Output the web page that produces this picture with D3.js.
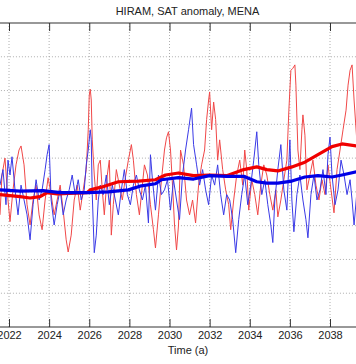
<!DOCTYPE html>
<html>
<head>
<meta charset="utf-8">
<script src="https://cdn.jsdelivr.net/npm/d3@7"></script>
<style>
  html, body { margin: 0; padding: 0; background: #fff; }
  svg { display: block; }
  text { font-family: "Liberation Sans", Arial, sans-serif; }
</style>
</head>
<body>
<svg id="chart" width="356" height="364"></svg>
<script>
// ---------- data ----------
const titleText = "HIRAM, SAT anomaly, MENA";
const xLabelText = "Time (a)";
const xTickYears = [2022, 2024, 2026, 2028, 2030, 2032, 2034, 2036, 2038];
const xGridYears = [2020, 2022, 2024, 2026, 2028, 2030, 2032, 2034, 2036, 2038, 2040];
const yTickValues = [-2, -1.5, -1, -0.5, 0, 0.5, 1, 1.5, 2, 2.5];

// thin red series (monthly-ish anomaly)
const redTime = [2021.55,2021.65,2021.80,2021.95,2022.05,2022.20,2022.35,2022.50,2022.60,2022.75,2022.90,2023.05,2023.20,2023.35,2023.50,2023.65,2023.80,2023.95,2024.10,2024.25,2024.40,2024.55,2024.70,2024.85,2024.95,2025.10,2025.25,2025.40,2025.55,2025.70,2025.85,2025.95,2026.00,2026.05,2026.10,2026.15,2026.25,2026.35,2026.45,2026.55,2026.65,2026.75,2026.90,2027.00,2027.10,2027.20,2027.35,2027.50,2027.65,2027.80,2027.95,2028.10,2028.20,2028.35,2028.50,2028.60,2028.75,2028.90,2029.05,2029.20,2029.30,2029.45,2029.60,2029.75,2029.85,2029.95,2030.05,2030.15,2030.25,2030.35,2030.45,2030.55,2030.70,2030.85,2031.00,2031.15,2031.30,2031.45,2031.60,2031.75,2031.85,2031.95,2032.00,2032.10,2032.20,2032.30,2032.40,2032.50,2032.65,2032.80,2032.95,2033.05,2033.20,2033.35,2033.50,2033.65,2033.75,2033.85,2033.95,2034.10,2034.25,2034.40,2034.55,2034.70,2034.85,2035.00,2035.15,2035.30,2035.40,2035.55,2035.70,2035.85,2035.95,2036.05,2036.15,2036.25,2036.30,2036.40,2036.50,2036.60,2036.65,2036.75,2036.85,2037.00,2037.15,2037.30,2037.45,2037.60,2037.75,2037.90,2038.05,2038.20,2038.35,2038.50,2038.65,2038.80,2038.90,2039.00,2039.10,2039.20,2039.35];
const redValue = [-0.34,0.25,0.50,-0.12,-0.44,0.03,0.40,0.62,0.68,0.40,-0.19,-0.49,-0.12,0.10,-0.34,-0.56,-0.12,0.21,-0.04,-0.34,-0.12,0.10,-0.27,-0.71,-0.89,-0.64,-0.12,0.10,-0.27,0.03,0.33,0.92,1.43,1.52,1.36,0.77,0.25,-0.12,0.40,0.47,0.03,-0.34,0.25,0.47,-0.64,-0.19,0.33,0.10,-0.12,0.21,0.47,0.70,0.47,-0.04,-0.34,-0.04,0.40,0.25,-0.19,-0.56,-0.83,-0.34,0.18,0.62,0.80,0.89,0.62,0.10,-0.49,-0.86,-0.49,0.62,0.40,-0.12,-0.34,-0.12,-0.46,0.10,0.40,0.62,1.07,1.36,1.48,0.92,1.33,1.07,0.47,0.77,0.33,0.03,-0.19,-0.56,-0.12,0.25,0.47,0.10,0.62,0.33,-0.27,0.18,-0.04,-0.34,0.10,0.40,0.25,-0.04,-0.27,0.03,-0.37,-0.12,0.18,0.47,1.21,1.80,1.83,1.88,1.58,0.62,0.33,0.92,1.14,0.84,0.03,0.25,0.47,0.10,-0.12,0.18,-0.04,0.40,0.03,-0.31,0.33,0.62,0.92,1.21,1.58,1.80,1.88,1.36,0.70];

// thin blue series
const blueTime = [2021.55,2021.70,2021.85,2021.95,2022.05,2022.15,2022.30,2022.45,2022.60,2022.75,2022.90,2023.05,2023.20,2023.35,2023.50,2023.65,2023.80,2023.90,2024.00,2024.10,2024.25,2024.40,2024.55,2024.70,2024.85,2025.00,2025.15,2025.30,2025.45,2025.60,2025.75,2025.85,2025.95,2026.05,2026.10,2026.15,2026.25,2026.35,2026.45,2026.55,2026.70,2026.85,2027.00,2027.15,2027.30,2027.45,2027.60,2027.75,2027.90,2028.05,2028.20,2028.35,2028.50,2028.65,2028.80,2028.95,2029.05,2029.15,2029.30,2029.45,2029.60,2029.75,2029.90,2030.05,2030.20,2030.35,2030.50,2030.65,2030.80,2030.95,2031.10,2031.20,2031.35,2031.50,2031.65,2031.80,2031.95,2032.10,2032.25,2032.40,2032.55,2032.70,2032.85,2033.00,2033.15,2033.30,2033.45,2033.60,2033.75,2033.90,2034.05,2034.20,2034.35,2034.45,2034.60,2034.75,2034.90,2035.05,2035.15,2035.25,2035.40,2035.55,2035.70,2035.85,2036.00,2036.10,2036.20,2036.35,2036.50,2036.65,2036.80,2036.90,2037.05,2037.20,2037.35,2037.50,2037.65,2037.80,2037.90,2038.00,2038.10,2038.25,2038.40,2038.55,2038.70,2038.85,2039.00,2039.10,2039.20,2039.35];
const blueValue = [0.10,0.33,-0.19,0.47,0.25,0.52,0.03,-0.34,0.10,-0.12,-0.34,-0.71,-0.19,0.18,-0.12,0.03,0.33,0.55,0.70,-0.12,-0.49,-0.19,0.03,-0.34,-0.12,0.03,0.25,-0.04,0.18,-0.12,0.03,0.40,0.62,0.92,0.77,-0.04,-0.90,-0.64,-0.12,0.10,-0.04,0.25,-0.19,0.10,-0.12,-0.34,0.03,0.33,-0.04,-0.19,0.10,0.25,0.03,-0.12,0.10,-0.46,0.55,0.18,-0.27,0.25,-0.04,0.03,0.18,-0.27,0.18,-0.12,-0.41,0.25,0.62,0.92,1.24,0.70,0.40,0.10,0.33,0.03,-0.19,0.25,0.10,0.40,-0.04,-0.34,-0.04,-0.12,-0.41,-0.90,-0.41,-0.04,0.25,-0.19,0.10,0.47,0.89,0.40,-0.04,0.18,-0.19,-0.49,-0.75,-0.12,0.33,0.70,0.03,-0.27,0.77,-0.12,-0.59,-0.04,0.25,-0.12,-0.41,-0.68,-0.04,0.25,-0.12,0.03,0.33,-0.04,0.55,0.81,0.25,-0.19,0.03,0.47,0.25,-0.04,0.18,-0.12,-0.49,0.03];

// smoothed (running mean) series
const redSmoothTime = [2021.55,2022.55,2023.05,2023.55,2023.90,2024.40,2025.90,2026.05,2026.60,2027.45,2028.45,2029.30,2029.80,2030.45,2031.20,2032.00,2032.85,2033.70,2034.35,2034.85,2035.40,2036.10,2036.75,2037.40,2038.10,2038.60,2039.35];
const redSmoothValue = [-0.04,-0.07,-0.09,-0.07,-0.01,-0.03,-0.01,0.03,0.07,0.15,0.16,0.18,0.25,0.28,0.24,0.25,0.24,0.33,0.37,0.33,0.31,0.37,0.44,0.55,0.67,0.71,0.68];
const blueSmoothTime = [2021.55,2022.55,2023.70,2024.55,2025.95,2026.95,2027.95,2028.60,2029.30,2029.60,2030.45,2031.20,2032.00,2032.85,2033.70,2034.35,2034.85,2035.40,2036.10,2036.75,2037.40,2038.10,2038.60,2039.35];
const blueSmoothValue = [0.03,0.01,0.02,-0.01,-0.01,0.00,0.03,0.09,0.12,0.18,0.21,0.19,0.24,0.23,0.23,0.15,0.13,0.13,0.16,0.22,0.24,0.22,0.25,0.30];

// ---------- drawing ----------
const svg = d3.select("#chart");
const x = d3.scaleLinear().domain([2022, 2038]).range([9, 330]);
const y = d3.scaleLinear().domain([-2, 2.5]).range([327, 23]);

const pLeft = x(2021), pRight = x(2041), pTop = y(2.5), pBottom = y(-2);

// clip
svg.append("defs").append("clipPath").attr("id", "clip")
  .append("rect").attr("x", pLeft).attr("y", pTop)
  .attr("width", pRight - pLeft).attr("height", pBottom - pTop);

// grid
const grid = svg.append("g").attr("stroke", "#9a9a9a").attr("stroke-width", 0.8)
  .attr("stroke-dasharray", "1,2");
grid.selectAll("line.v").data(xGridYears).join("line").attr("class", "v")
  .attr("x1", d => x(d)).attr("x2", d => x(d)).attr("y1", pTop).attr("y2", pBottom);
grid.selectAll("line.h").data(yTickValues.slice(1, -1)).join("line").attr("class", "h")
  .attr("y1", d => y(d)).attr("y2", d => y(d)).attr("x1", pLeft).attr("x2", pRight);

// lines
const plot = svg.append("g").attr("clip-path", "url(#clip)");
const mk = (ts, vs) => ts.map((t, i) => [t, vs[i]]);
const line = d3.line().x(d => x(d[0])).y(d => y(d[1]));

plot.append("path").datum(mk(redTime, redValue)).attr("d", line)
  .attr("fill", "none").attr("stroke", "#f04848").attr("stroke-width", 1);
plot.append("path").datum(mk(blueTime, blueValue)).attr("d", line)
  .attr("fill", "none").attr("stroke", "#3a3ae6").attr("stroke-width", 1);
plot.append("path").datum(mk(redSmoothTime, redSmoothValue)).attr("d", line)
  .attr("fill", "none").attr("stroke", "#f00000").attr("stroke-width", 3.2)
  .attr("stroke-linejoin", "round");
plot.append("path").datum(mk(blueSmoothTime, blueSmoothValue)).attr("d", line)
  .attr("fill", "none").attr("stroke", "#0000e6").attr("stroke-width", 3.2)
  .attr("stroke-linejoin", "round");

// axes
const axisColor = "#333";
const bottomAxis = d3.axisBottom(x).tickValues(xTickYears).tickSize(-8).tickPadding(4)
  .tickFormat(d3.format("d"));
const topAxis = d3.axisTop(x).tickValues(xTickYears).tickSize(-8).tickFormat("");
const leftAxis = d3.axisLeft(y).tickValues(yTickValues).tickSize(-8).tickFormat("");

const gb = svg.append("g").attr("transform", `translate(0,${pBottom})`).call(bottomAxis);
const gt = svg.append("g").attr("transform", `translate(0,${pTop})`).call(topAxis);
const gl = svg.append("g").attr("transform", `translate(${pLeft},0)`).call(leftAxis);
[gb, gt, gl].forEach(g => {
  g.select(".domain").remove();
  g.selectAll(".tick line").attr("stroke", axisColor).attr("stroke-width", 1);
});
gb.selectAll(".tick text").attr("font-size", 11).attr("fill", "#222")
  .attr("font-family", "'Liberation Sans', Arial, sans-serif");

// frame
svg.append("rect").attr("x", pLeft).attr("y", pTop)
  .attr("width", pRight - pLeft).attr("height", pBottom - pTop)
  .attr("fill", "none").attr("stroke", axisColor).attr("stroke-width", 1);

// title and label
svg.append("text").attr("x", 187.5).attr("y", 15).attr("text-anchor", "middle")
  .attr("font-size", 11).attr("fill", "#222").text(titleText);
svg.append("text").attr("x", 188).attr("y", 354).attr("text-anchor", "middle")
  .attr("font-size", 11).attr("fill", "#222").text(xLabelText);
</script>
</body>
</html>
